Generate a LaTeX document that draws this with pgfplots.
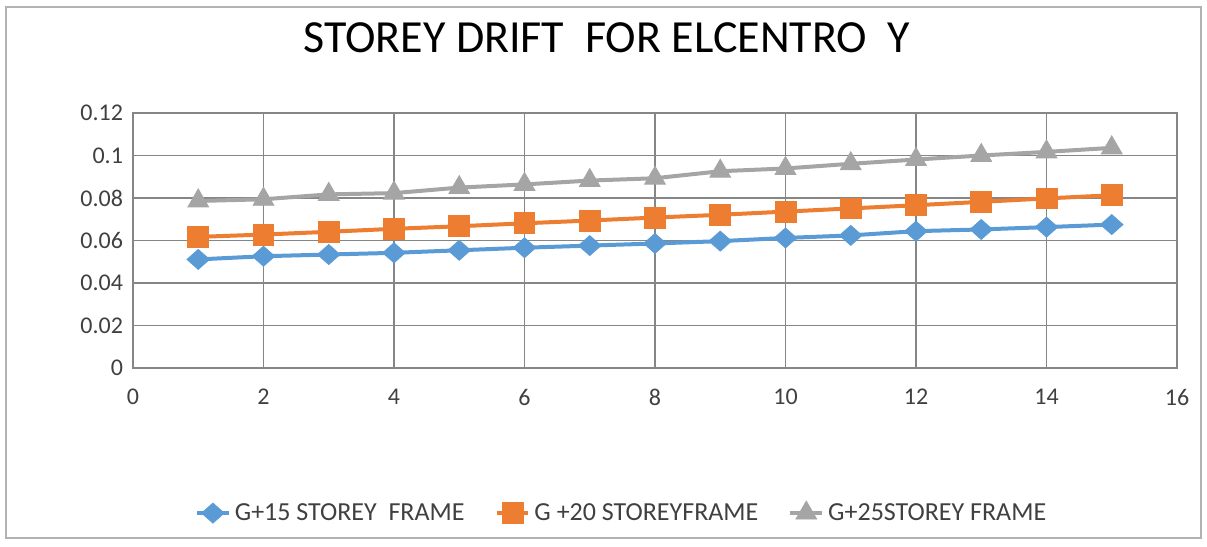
\documentclass[border=0pt]{standalone}
\usepackage{pgfplots}
\pgfplotsset{compat=1.18}
\usepackage{fontspec}
\setmainfont{Carlito}
\definecolor{sblue}{HTML}{5B9BD5}
\definecolor{sorange}{HTML}{ED7D31}
\definecolor{sgray}{HTML}{A5A5A5}
\definecolor{gridc}{HTML}{868686}
\definecolor{txt}{HTML}{404040}
\begin{document}
\begin{tikzpicture}
\useasboundingbox (-66.5pt,-89.5pt) rectangle (537pt,184pt);
\draw[gray!60, line width=0.8pt] (-63.5pt,-85pt) rectangle (534pt,180.5pt);
\begin{axis}[
    at={(0pt,0pt)}, anchor=origin,
    scale only axis,
    width=522pt, height=127.5pt,
    xmin=0, xmax=16, ymin=0, ymax=0.12,
    xtick={0,2,...,16},
    ytick={0,0.02,0.04,0.06,0.08,0.1,0.12},
    yticklabel style={/pgf/number format/fixed,/pgf/number format/precision=2, xshift=-1.5pt},
    xticklabel style={yshift=-7pt},
    /pgf/number format/assume math mode=true,
    tick label style={font=\fontsize{12}{14}\selectfont, text=txt},
    major tick length=0pt,
    grid=major,
    grid style={gridc, line width=0.75pt},
    axis line style={gridc, line width=0.75pt},
    legend style={at={(0.469,-0.569)}, anchor=center, draw=none,
        legend columns=3, font=\fontsize{13}{15}\selectfont, text=txt,
        /tikz/every even column/.append style={column sep=13pt}},
    legend image code/.code={
        \draw[#1, mark repeat=2, mark phase=2] plot coordinates {(0cm,0cm) (0.28cm,0cm) (0.56cm,0cm)};},
    legend cell align=left,
]
\addplot[sblue, line width=2pt, mark=diamond*, mark size=5pt,
    mark options={fill=sblue, solid, line width=0.4pt, xscale=1.5}] coordinates {
    (1,0.0511) (2,0.0526) (3,0.0534) (4,0.0542) (5,0.0554)
    (6,0.0566) (7,0.0576) (8,0.0586) (9,0.0597) (10,0.0612)
    (11,0.0624) (12,0.0644) (13,0.0652) (14,0.0663) (15,0.0675)
};
\addlegendentry{G+15 STOREY\ \ FRAME}
\addplot[sorange, line width=2pt, mark=square*, mark size=5.2pt,
    mark options={fill=sorange, solid, line width=0.4pt}] coordinates {
    (1,0.0617) (2,0.0628) (3,0.0641) (4,0.0655) (5,0.0667)
    (6,0.0681) (7,0.0694) (8,0.0708) (9,0.0721) (10,0.0736)
    (11,0.0751) (12,0.0766) (13,0.0782) (14,0.0798) (15,0.0813)
};
\addlegendentry{G +20 STOREYFRAME}
\addplot[sgray, line width=2pt, mark=triangle*, mark size=6pt,
    mark options={fill=sgray, solid, line width=0.4pt}] coordinates {
    (1,0.0786) (2,0.0794) (3,0.0817) (4,0.0823) (5,0.0849)
    (6,0.0864) (7,0.0882) (8,0.0893) (9,0.0926) (10,0.0939)
    (11,0.0961) (12,0.0981) (13,0.1000) (14,0.1017) (15,0.1036)
};
\addlegendentry{G+25STOREY FRAME}
\end{axis}
\node[font=\fontsize{23}{27}\selectfont] at (237pt,165pt) {STOREY DRIFT\ \ FOR ELCENTRO\ \ Y};
\end{tikzpicture}
\end{document}
